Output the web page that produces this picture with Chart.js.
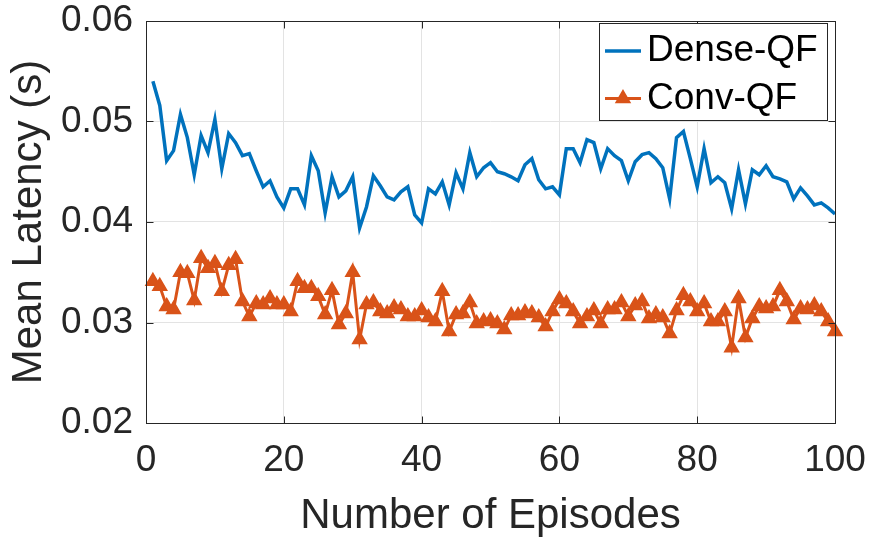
<!DOCTYPE html>
<html>
<head>
<meta charset="utf-8">
<script src="https://cdn.jsdelivr.net/npm/chart.js@4"></script>
<style>
  html, body { margin: 0; padding: 0; background: #fff; }
  #wrap { width: 873px; height: 542px; }
</style>
</head>
<body>
<div id="wrap"><canvas id="chart" width="873" height="542"></canvas></div>
<script>
// episodes on the x axis
const episodes = [
  1, 2, 3, 4, 5, 6, 7, 8, 9, 10, 11, 12, 13, 14, 15, 16, 17, 18, 19, 20,
  21, 22, 23, 24, 25, 26, 27, 28, 29, 30, 31, 32, 33, 34, 35, 36, 37, 38, 39, 40,
  41, 42, 43, 44, 45, 46, 47, 48, 49, 50, 51, 52, 53, 54, 55, 56, 57, 58, 59, 60,
  61, 62, 63, 64, 65, 66, 67, 68, 69, 70, 71, 72, 73, 74, 75, 76, 77, 78, 79, 80,
  81, 82, 83, 84, 85, 86, 87, 88, 89, 90, 91, 92, 93, 94, 95, 96, 97, 98, 99, 100
];

// mean latency (s)
const denseQF = [
  0.0540, 0.0516, 0.0461, 0.0471, 0.0507, 0.0484, 0.0447, 0.0486, 0.0469, 0.0502,
  0.0453, 0.0488, 0.0479, 0.0466, 0.0468, 0.0451, 0.0435, 0.0441, 0.0425, 0.0414,
  0.0433, 0.0433, 0.0417, 0.0466, 0.0451, 0.0409, 0.0445, 0.0425, 0.0431, 0.0445,
  0.0394, 0.0415, 0.0446, 0.0436, 0.0425, 0.0422, 0.0430, 0.0435, 0.0407, 0.0399,
  0.0433, 0.0428, 0.0440, 0.0417, 0.0449, 0.0433, 0.0469, 0.0445, 0.0454, 0.0459,
  0.0450, 0.0448, 0.0445, 0.0441, 0.0457, 0.0463, 0.0442, 0.0433, 0.0435, 0.0427,
  0.0473, 0.0473, 0.0459, 0.0482, 0.0479, 0.0453, 0.0473, 0.0466, 0.0461, 0.0441,
  0.0460, 0.0467, 0.0469, 0.0463, 0.0454, 0.0423, 0.0484, 0.0490, 0.0463, 0.0435,
  0.0473, 0.0439, 0.0445, 0.0439, 0.0413, 0.0452, 0.0418, 0.0452, 0.0447, 0.0456,
  0.0445, 0.0443, 0.0440, 0.0423, 0.0434, 0.0426, 0.0417, 0.0419, 0.0414, 0.0408
];

const convQF = [
  0.0341, 0.0336, 0.0316, 0.0313, 0.0350, 0.0349, 0.0322, 0.0364, 0.0354, 0.0359,
  0.0331, 0.0357, 0.0363, 0.0321, 0.0306, 0.0319, 0.0318, 0.0324, 0.0318, 0.0318,
  0.0311, 0.0341, 0.0334, 0.0334, 0.0326, 0.0308, 0.0332, 0.0298, 0.0309, 0.0350,
  0.0283, 0.0318, 0.0320, 0.0311, 0.0309, 0.0315, 0.0313, 0.0306, 0.0306, 0.0312,
  0.0305, 0.0301, 0.0331, 0.0291, 0.0308, 0.0309, 0.0320, 0.0299, 0.0301, 0.0302,
  0.0299, 0.0293, 0.0307, 0.0307, 0.0310, 0.0309, 0.0305, 0.0296, 0.0311, 0.0323,
  0.0319, 0.0311, 0.0299, 0.0306, 0.0312, 0.0299, 0.0313, 0.0313, 0.0320, 0.0306,
  0.0317, 0.0321, 0.0304, 0.0308, 0.0305, 0.0289, 0.0312, 0.0327, 0.0321, 0.0311,
  0.0319, 0.0301, 0.0301, 0.0311, 0.0275, 0.0324, 0.0285, 0.0304, 0.0316, 0.0314,
  0.0316, 0.0332, 0.0321, 0.0303, 0.0314, 0.0313, 0.0317, 0.0311, 0.0301, 0.0291
];

const xTicks = [0, 20, 40, 60, 80, 100];
const yTicks = [0.02, 0.03, 0.04, 0.05, 0.06];

const BLUE = '#0072BD';
const ORANGE = '#D95319';
const AXIS = '#262626';
const FONT = '"Liberation Sans", Arial, Helvetica, sans-serif';

/* caixa dos eixos + ticks para dentro (estilo MATLAB) */
const boxPlugin = {
  id: 'box',
  afterDatasetsDraw(chart) {
    const { ctx, chartArea: a, scales: { x, y } } = chart;
    const L = Math.round(a.left) + 0.5, R = Math.round(a.right) + 0.5;
    const T = Math.round(a.top) + 0.5, B = Math.round(a.bottom) + 0.5;
    const len = 7;
    ctx.save();
    ctx.strokeStyle = AXIS;
    ctx.lineWidth = 1;
    ctx.strokeRect(L, T, R - L, B - T);
    ctx.beginPath();
    xTicks.forEach(v => {
      const px = Math.round(x.getPixelForValue(v)) + 0.5;
      ctx.moveTo(px, B); ctx.lineTo(px, B - len);
      ctx.moveTo(px, T); ctx.lineTo(px, T + len);
    });
    yTicks.forEach(v => {
      const py = Math.round(y.getPixelForValue(v)) + 0.5;
      ctx.moveTo(L, py); ctx.lineTo(L + len, py);
      ctx.moveTo(R, py); ctx.lineTo(R - len, py);
    });
    ctx.stroke();
    ctx.restore();
  }
};

/* legenda desenhada dentro do gráfico, canto superior direito */
const legendPlugin = {
  id: 'innerLegend',
  afterDraw(chart) {
    const { ctx } = chart;
    const bx = 599.5, by = 23.5, bw = 228, bh = 97;
    ctx.save();
    ctx.fillStyle = '#fff';
    ctx.fillRect(bx, by, bw, bh);
    ctx.strokeStyle = AXIS;
    ctx.lineWidth = 1;
    ctx.strokeRect(bx, by, bw, bh);

    const rows = [51, 98.5];
    chart.data.datasets.forEach((ds, i) => {
      const yy = rows[i];
      ctx.strokeStyle = ds.borderColor;
      ctx.lineWidth = ds.borderWidth;
      ctx.beginPath();
      ctx.moveTo(605, yy); ctx.lineTo(641, yy);
      ctx.stroke();
      if (ds.pointRadius > 0) {
        ctx.fillStyle = ds.pointBackgroundColor;
        ctx.strokeStyle = ds.pointBorderColor;
        ctx.lineWidth = ds.pointBorderWidth;
        Chart.helpers.drawPoint(ctx, { pointStyle: 'triangle', radius: ds.pointRadius, rotation: 0, borderWidth: ds.pointBorderWidth }, 623, yy);
      }
      ctx.fillStyle = '#000';
      ctx.font = '37px ' + FONT;
      ctx.textBaseline = 'middle';
      ctx.textAlign = 'left';
      ctx.fillText(ds.label, 647, yy);
    });
    ctx.restore();
  }
};

new Chart(document.getElementById('chart'), {
  type: 'line',
  data: {
    labels: episodes,
    datasets: [
      {
        label: 'Dense-QF',
        data: denseQF,
        borderColor: BLUE,
        backgroundColor: BLUE,
        borderWidth: 3.5,
        pointRadius: 0,
        tension: 0,
        clip: false
      },
      {
        label: 'Conv-QF',
        data: convQF,
        borderColor: ORANGE,
        backgroundColor: ORANGE,
        borderWidth: 3,
        pointStyle: 'triangle',
        pointRadius: 8,
        pointBackgroundColor: ORANGE,
        pointBorderColor: ORANGE,
        pointBorderWidth: 1.5,
        tension: 0,
        clip: false
      }
    ]
  },
  options: {
    responsive: false,
    animation: false,
    devicePixelRatio: 1,
    layout: { padding: { top: 21, right: 38, left: 0, bottom: 0 } },
    plugins: {
      legend: { display: false },
      tooltip: { enabled: false }
    },
    scales: {
      x: {
        type: 'linear',
        min: 0,
        max: 100,
        afterFit: (s) => {
          s.height = 119;
          s.paddingLeft = 0; s.paddingRight = 0;
        },
        afterBuildTicks: (s) => { s.ticks = xTicks.map(v => ({ value: v })); },
        grid: { color: '#e3e3e3', lineWidth: 1, drawTicks: false },
        border: { display: false },
        ticks: {
          padding: 19,
          color: AXIS,
          maxRotation: 0,
          font: { family: FONT, size: 37, lineHeight: 1 }
        },
        title: {
          display: true,
          text: 'Number of Episodes',
          color: AXIS,
          font: { family: FONT, size: 42, lineHeight: 1 },
          padding: { top: 0, bottom: 5 }
        }
      },
      y: {
        min: 0.02,
        max: 0.06,
        afterFit: (s) => {
          s.width = 146;
          s.paddingTop = 0; s.paddingBottom = 0;
        },
        afterBuildTicks: (s) => { s.ticks = yTicks.map(v => ({ value: v })); },
        grid: { color: '#e3e3e3', lineWidth: 1, drawTicks: false },
        border: { display: false },
        ticks: {
          padding: 13,
          color: AXIS,
          font: { family: FONT, size: 37, lineHeight: 1 },
          callback: (v) => v.toFixed(2)
        },
        title: {
          display: true,
          text: 'Mean Latency (s)',
          color: AXIS,
          font: { family: FONT, size: 42, lineHeight: 1 },
          padding: { top: 8, bottom: 0 }
        }
      }
    }
  },
  plugins: [boxPlugin, legendPlugin]
});
</script>
</body>
</html>
